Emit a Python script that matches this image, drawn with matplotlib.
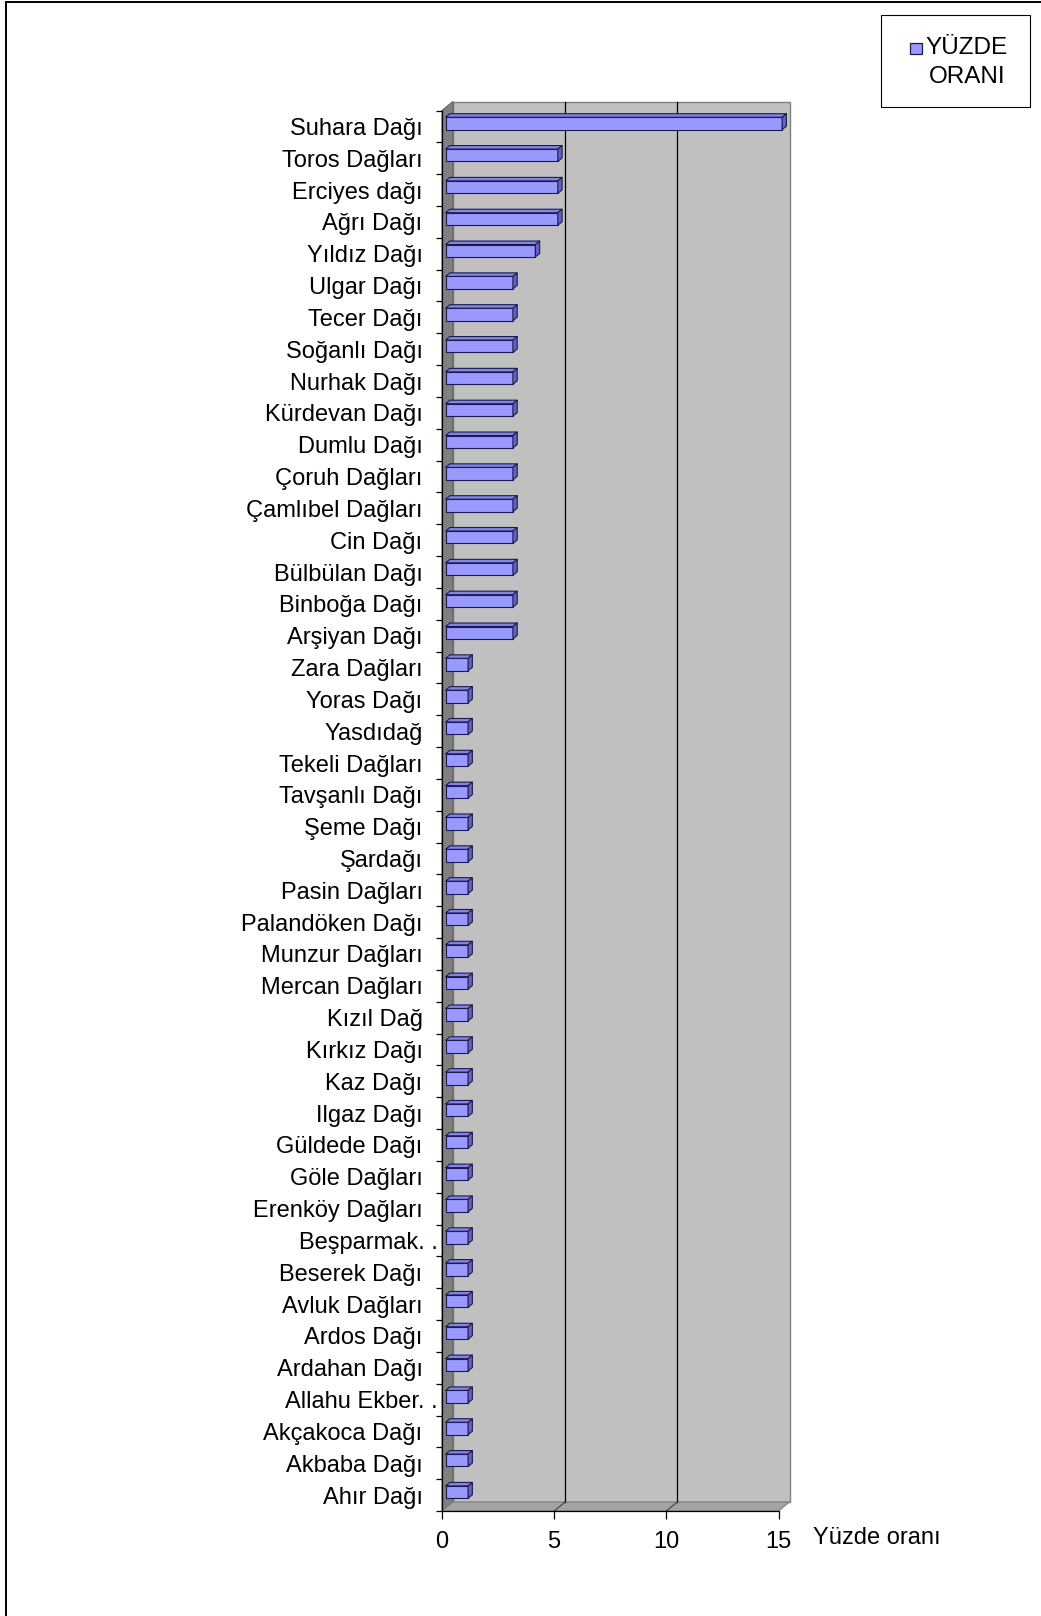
import numpy as np
import matplotlib
matplotlib.use('Agg')
import matplotlib.pyplot as plt
from matplotlib.patches import Polygon, Rectangle
from matplotlib.collections import PolyCollection
from matplotlib.lines import Line2D
from matplotlib.transforms import ScaledTranslation

plt.rcParams['font.family'] = ['Liberation Sans', 'DejaVu Sans']

# mountain names, top to bottom as in the chart
mountains = [
    'Suhara Dağı', 'Toros Dağları', 'Erciyes dağı', 'Ağrı Dağı', 'Yıldız Dağı',
    'Ulgar Dağı', 'Tecer Dağı', 'Soğanlı Dağı', 'Nurhak Dağı', 'Kürdevan Dağı',
    'Dumlu Dağı', 'Çoruh Dağları', 'Çamlıbel Dağları', 'Cin Dağı', 'Bülbülan Dağı',
    'Binboğa Dağı', 'Arşiyan Dağı', 'Zara Dağları', 'Yoras Dağı', 'Yasdıdağ',
    'Tekeli Dağları', 'Tavşanlı Dağı', 'Şeme Dağı', 'Şardağı', 'Pasin Dağları',
    'Palandöken Dağı', 'Munzur Dağları', 'Mercan Dağları', 'Kızıl Dağ', 'Kırkız Dağı',
    'Kaz Dağı', 'Ilgaz Dağı', 'Güldede Dağı', 'Göle Dağları', 'Erenköy Dağları',
    'Beşparmak. .', 'Beserek Dağı', 'Avluk Dağları', 'Ardos Dağı', 'Ardahan Dağı',
    'Allahu Ekber. .', 'Akçakoca Dağı', 'Akbaba Dağı', 'Ahır Dağı',
]
# percentages
yuzde = [15, 5, 5, 5, 4] + [3] * 12 + [1] * 27
xticks = [0, 5, 10, 15]
legend_label = 'YÜZDE\nORANI'
xlabel = 'Yüzde oranı'

W, H = 1041, 1616
fig = plt.figure(figsize=(W / 100, H / 100), dpi=100)

# front plane of the plot in pixels
x0p, x1p, y0p, y1p = 442, 778.5, 110.5, 1511
ax = fig.add_axes([x0p / W, 1 - y1p / H, (x1p - x0p) / W, (y1p - y0p) / H])
n = len(mountains)
pos = np.arange(n)
ax.set_xlim(0, 15)
ax.set_ylim(n - 0.5, -0.5)
ax.patch.set_visible(False)

pxx = (x1p - x0p) / 15.0
pxy = (y1p - y0p) / n
DXp, DYp = 11, 9  # depth of the 3d box in pixels


def depth(d):
    return d * DXp / pxx, -d * DYp / pxy


wx, wy = depth(1.0)
top, bot = -0.5, n - 0.5
# back wall, side wall, floor
ax.add_patch(Polygon([(wx, top + wy), (15 + wx, top + wy), (15 + wx, bot + wy), (wx, bot + wy)],
                     closed=True, fc='#c0c0c0', ec='#808080', lw=1, clip_on=False, zorder=0))
ax.add_patch(Polygon([(0, top), (wx, top + wy), (wx, bot + wy), (0, bot)],
                     closed=True, fc='#808080', ec='#606060', lw=0.8, clip_on=False, zorder=0.5))
ax.add_patch(Polygon([(0, bot), (15, bot), (15 + wx, bot + wy), (wx, bot + wy)],
                     closed=True, fc='#a4a4a4', ec='#808080', lw=0.8, clip_on=False, zorder=0.5))
# gridlines on back wall and floor
for t in xticks[1:-1]:
    ax.plot([t + wx, t + wx], [bot + wy, top + wy], color='black', lw=0.9, clip_on=False, zorder=1)
    ax.plot([t, t + wx], [bot, bot + wy], color='#404040', lw=0.8, clip_on=False, zorder=1)

# bars
h = 0.39
fx, fy = depth(0.33)
bx, by = depth(0.72)
edge = '#1a1a50'
bars = ax.barh(pos + fy, yuzde, height=h, left=fx, color='#9999ff', edgecolor=edge, lw=0.8, zorder=3)
for b in bars:
    b.set_clip_on(False)
tops, sides = [], []
for p, v in zip(pos, yuzde):
    yt, yb = p - h / 2, p + h / 2
    tops.append([(fx, yt + fy), (v + fx, yt + fy), (v + bx, yt + by), (bx, yt + by)])
    sides.append([(v + fx, yt + fy), (v + fx, yb + fy), (v + bx, yb + by), (v + bx, yt + by)])
pc_top = PolyCollection(tops, facecolors='#8484e6', edgecolors=edge, linewidths=0.8, zorder=3)
pc_side = PolyCollection(sides, facecolors='#6464b8', edgecolors=edge, linewidths=0.8, zorder=3)
for pc in (pc_top, pc_side):
    pc.set_clip_on(False)
    ax.add_collection(pc)

# axes and ticks
for s in ['top', 'right']:
    ax.spines[s].set_visible(False)
for s in ['left', 'bottom']:
    ax.spines[s].set_color('black')
    ax.spines[s].set_linewidth(0.9)
    ax.spines[s].set_zorder(4)
ax.set_xticks(xticks)
ax.set_xticklabels([str(t) for t in xticks], fontsize=17)
ax.tick_params(axis='x', direction='out', length=6, width=0.9, pad=8.5)
ax.set_yticks(pos)
ax.set_yticklabels(mountains, fontsize=17)
ax.set_yticks(np.arange(n + 1) - 0.5, minor=True)
ax.tick_params(axis='y', which='major', length=0, pad=14)
ax.tick_params(axis='y', which='minor', direction='out', length=4, width=0.9)
ax.tick_params(axis='x', which='minor', length=0)
# truncated names sit closer to the axis
for lbl in ax.get_yticklabels():
    if lbl.get_text().endswith('.'):
        lbl.set_transform(lbl.get_transform() + ScaledTranslation(11 / 72, 0, fig.dpi_scale_trans))

fig.text(813 / W, 1 - 1538 / H, xlabel, fontsize=17, va='center', ha='left')

# legend box
fig.add_artist(Rectangle((881 / W, 1 - 107 / H), 149 / W, 92 / H, transform=fig.transFigure,
                         fc='white', ec='black', lw=0.8))
fig.add_artist(Rectangle((910 / W, 1 - 54 / H), 12 / W, 11 / H, transform=fig.transFigure,
                         fc='#9999ff', ec=edge, lw=0.9))
l1, l2 = legend_label.split('\n')
fig.text(925 / W, 1 - 48.5 / H, l1, fontsize=17.5, va='center', ha='left')
fig.text(967 / W, 1 - 77 / H, l2, fontsize=17.5, va='center', ha='center')

# outer chart frame (left and top edges visible)
fig.add_artist(Line2D([6 / W, 6 / W], [0, 1 - 2 / H], transform=fig.transFigure, color='black', lw=1.4))
fig.add_artist(Line2D([6 / W, 1], [1 - 2 / H, 1 - 2 / H], transform=fig.transFigure, color='black', lw=1.4))

fig.savefig('out.png', dpi=100)
